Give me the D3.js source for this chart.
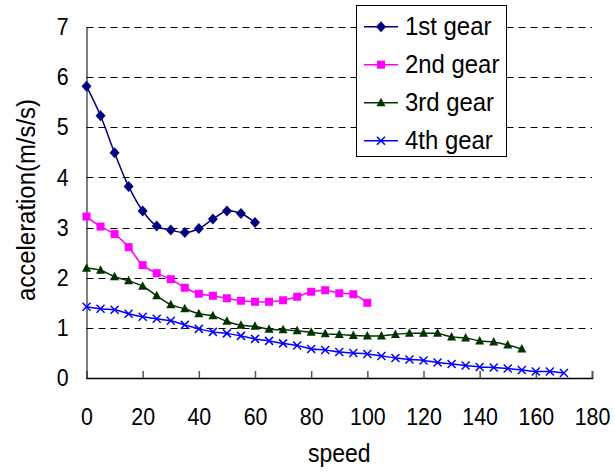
<!DOCTYPE html>
<html lang="en">
	<head>
		<meta charset="utf-8">
		<title>acceleration by gear</title>
		<script type="text/javascript" src="https://cdn.jsdelivr.net/npm/d3@7"></script>
		<style type="text/css">
			body { margin: 0; background: #fff; }
			text { font-family: "Liberation Sans", Arial, sans-serif; fill: #000; }
		</style>
	</head>
	<body>
		<script type="text/javascript">
			//Width and height
			var w = 615;
			var h = 474;

			//Data
			var speed1 = [0, 5, 10, 15, 20, 25, 30, 35, 40, 45, 50, 55, 60];
			var accel1 = [5.82, 5.23, 4.49, 3.82, 3.33, 3.03, 2.95, 2.90, 2.98, 3.17, 3.33, 3.28, 3.10];

			var speed2 = [0, 5, 10, 15, 20, 25, 30, 35, 40, 45, 50, 55, 60, 65, 70, 75, 80, 85, 90, 95, 100];
			var accel2 = [3.22, 3.02, 2.87, 2.61, 2.25, 2.09, 1.97, 1.80, 1.68, 1.64, 1.59, 1.54, 1.52, 1.52, 1.55, 1.62, 1.72, 1.75, 1.69, 1.67, 1.50];

			var speed3 = [0, 5, 10, 15, 20, 25, 30, 35, 40, 45, 50, 55, 60, 65, 70, 75, 80, 85, 90, 95, 100,
						105, 110, 115, 120, 125, 130, 135, 140, 145, 150, 155];
			var accel3 = [2.19, 2.15, 2.02, 1.94, 1.83, 1.64, 1.46, 1.38, 1.28, 1.24, 1.13, 1.05, 1.03, 0.97, 0.96, 0.94, 0.91, 0.88, 0.87, 0.85, 0.84,
						0.84, 0.87, 0.89, 0.89, 0.89, 0.82, 0.80, 0.74, 0.72, 0.66, 0.58];

			var speed4 = [0, 5, 10, 15, 20, 25, 30, 35, 40, 45, 50, 55, 60, 65, 70, 75, 80, 85, 90, 95, 100,
						105, 110, 115, 120, 125, 130, 135, 140, 145, 150, 155, 160, 165, 170];
			var accel4 = [1.42, 1.38, 1.36, 1.28, 1.22, 1.18, 1.14, 1.06, 0.98, 0.92, 0.89, 0.84, 0.78, 0.74, 0.69, 0.65, 0.58, 0.56, 0.52, 0.50, 0.48,
						0.44, 0.40, 0.37, 0.35, 0.31, 0.28, 0.25, 0.22, 0.21, 0.19, 0.16, 0.13, 0.13, 0.10];

			var gearNames = ["1st gear", "2nd gear", "3rd gear", "4th gear"];
			var gearColors = ["#000080", "#ff00ff", "#003300", "#0000ff"];
			var xTicks = [0, 20, 40, 60, 80, 100, 120, 140, 160, 180];
			var yTicks = [0, 1, 2, 3, 4, 5, 6, 7];

			var series = [
				{ name: gearNames[0], color: gearColors[0], marker: "diamond", xs: speed1, ys: accel1 },
				{ name: gearNames[1], color: gearColors[1], marker: "square", xs: speed2, ys: accel2 },
				{ name: gearNames[2], color: gearColors[2], marker: "triangle", xs: speed3, ys: accel3 },
				{ name: gearNames[3], color: gearColors[3], marker: "cross", xs: speed4, ys: accel4 }
			];

			var xScale = d3.scaleLinear()
							.domain([0, 180])
							.range([86.5, 592]);
			var yScale = d3.scaleLinear()
							.domain([0, 7])
							.range([378, 27]);

			var svg = d3.select("body")
						.append("svg")
						.attr("width", w)
						.attr("height", h);

			//Dashed gridlines
			svg.selectAll("line.grid")
			   .data(yTicks.slice(1))
			   .enter()
			   .append("line")
			   .attr("class", "grid")
			   .attr("x1", xScale(0))
			   .attr("x2", xScale(180))
			   .attr("y1", function(d) { return Math.round(yScale(d)) + 0.5; })
			   .attr("y2", function(d) { return Math.round(yScale(d)) + 0.5; })
			   .attr("stroke", "#000")
			   .attr("stroke-width", 1)
			   .attr("stroke-dasharray", "7,5");

			//Axes (labels a bit narrow, like the original)
			var yAxis = d3.axisLeft(yScale)
							.tickValues(yTicks)
							.tickFormat(d3.format("d"))
							.tickSize(0)
							.tickPadding(20);
			var gy = svg.append("g")
						.attr("transform", "translate(" + xScale(0) + ",0)")
						.call(yAxis);
			gy.select(".domain").attr("stroke", "#000");
			gy.selectAll("text")
			  .attr("font-size", "24px")
			  .attr("font-family", "Liberation Sans, Arial, sans-serif")
			  .attr("fill", "#000")
			  .attr("transform", "scale(0.89,1)");

			var xAxis = d3.axisBottom(xScale)
							.tickValues(xTicks)
							.tickSize(-7)
							.tickPadding(30);
			var gx = svg.append("g")
						.attr("transform", "translate(0," + yScale(0) + ")")
						.call(xAxis);
			gx.select(".domain").attr("stroke", "#000").attr("stroke-width", 1.5);
			gx.selectAll(".tick line").attr("stroke", "#555").attr("stroke-width", 1.5);
			gx.selectAll("text")
			  .attr("font-size", "24px")
			  .attr("font-family", "Liberation Sans, Arial, sans-serif")
			  .attr("fill", "#000")
			  .attr("transform", "scale(0.89,1)");

			//Axis titles
			svg.append("text")
			   .attr("transform", "translate(" + ((xScale(0) + xScale(180)) / 2) + ",462) scale(0.92,1)")
			   .attr("text-anchor", "middle")
			   .attr("font-size", "25px")
			   .text("speed");
			svg.append("text")
			   .attr("transform", "translate(35,200) rotate(-90) scale(0.92,1)")
			   .attr("text-anchor", "middle")
			   .attr("font-size", "26px")
			   .text("acceleration(m/s/s)");

			//Marker shapes
			function drawMarker(g, type, color) {
				if (type === "diamond") {
					g.append("path").attr("d", "M0,-5.5L5,0L0,5.5L-5,0Z").attr("fill", color);
				} else if (type === "square") {
					g.append("rect").attr("x", -4).attr("y", -4).attr("width", 8).attr("height", 8).attr("fill", color);
				} else if (type === "triangle") {
					g.append("path").attr("d", "M0,-5L4.5,3.5L-4.5,3.5Z").attr("fill", color);
				} else {
					g.append("path").attr("d", "M-4,-4L4,4M-4,4L4,-4")
					 .attr("stroke", color).attr("stroke-width", 1.5).attr("fill", "none");
				}
			}

			var line = d3.line()
						.x(function(d) { return xScale(d[0]); })
						.y(function(d) { return yScale(d[1]); })
						.curve(d3.curveCatmullRom.alpha(0.5));

			series.forEach(function(s) {
				var pts = s.xs.map(function(x, i) { return [x, s.ys[i]]; });
				svg.append("path")
				   .datum(pts)
				   .attr("d", line)
				   .attr("fill", "none")
				   .attr("stroke", s.color)
				   .attr("stroke-width", 1.5);
				svg.append("g")
				   .selectAll("g")
				   .data(pts)
				   .enter()
				   .append("g")
				   .attr("transform", function(d) { return "translate(" + xScale(d[0]) + "," + yScale(d[1]) + ")"; })
				   .each(function() { drawMarker(d3.select(this), s.marker, s.color); });
			});

			//Legend
			var legend = svg.append("g");
			legend.append("rect")
				  .attr("x", 356.5)
				  .attr("y", 5.5)
				  .attr("width", 150)
				  .attr("height", 151)
				  .attr("fill", "#fff")
				  .attr("stroke", "#000")
				  .attr("stroke-width", 1);
			var rows = legend.selectAll("g.row")
							 .data(series)
							 .enter()
							 .append("g")
							 .attr("class", "row")
							 .attr("transform", function(d, i) { return "translate(0," + (26.7 + i * 38) + ")"; });
			rows.append("line")
				.attr("x1", 364)
				.attr("x2", 398)
				.attr("stroke", function(d) { return d.color; })
				.attr("stroke-width", 1.5);
			rows.append("g")
				.attr("transform", "translate(381,0)")
				.each(function(d) { drawMarker(d3.select(this), d.marker, d.color); });
			rows.append("text")
				.attr("transform", "translate(405,8.5) scale(0.92,1)")
				.attr("font-size", "26px")
				.text(function(d) { return d.name; });
		</script>
	</body>
</html>
